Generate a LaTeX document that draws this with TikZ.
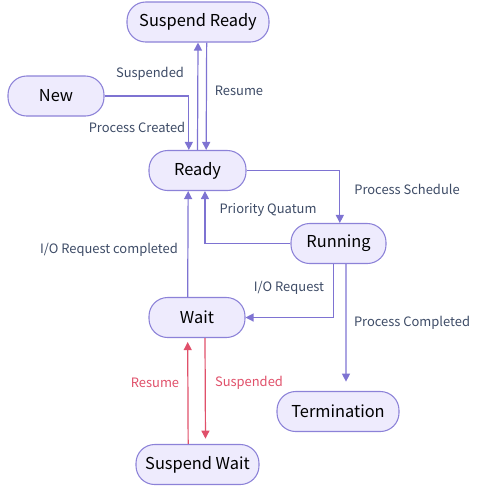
\documentclass[tikz,border=0pt]{standalone}
\usepackage{fontspec}
\setmainfont{Noto Sans CJK SC}
\usetikzlibrary{arrows.meta}
\definecolor{statefill}{HTML}{EEEBFD}
\definecolor{stateline}{HTML}{8C82D8}
\definecolor{flow}{HTML}{7E73D2}
\definecolor{labeltext}{HTML}{3D4B66}
\definecolor{suspflow}{HTML}{E0506A}

\begin{document}
\begin{tikzpicture}[x=0.75pt,y=-0.75pt,
	state/.style={draw=stateline,fill=statefill,rounded corners=14pt,minimum height=30pt,inner sep=2pt,font=\fontsize{12.3}{14}\selectfont,line width=0.8pt},
	lbl/.style={text=labeltext,font=\fontsize{9.7}{11}\selectfont,inner sep=1pt},
	redlbl/.style={lbl,text=suspflow},
	flowline/.style={draw=flow,line width=0.9pt,-{Triangle[width=6pt,length=6pt]}}]
	\useasboundingbox (0,0) rectangle (492,487);
	\node [state,minimum width=106.5pt](sready) at (198,22) {Suspend Ready};
	\node [state,minimum width=72pt](new) at (56,96) {New};
	\node [state,minimum width=72.75pt](ready) at (197.5,170.5) {Ready};
	\node [state,minimum width=71.25pt](running) at (338.5,243.5) {Running};
	\node [state,minimum width=72pt](wait) at (197,317.5) {Wait};
	\node [state,minimum width=91.5pt](term) at (338,411.5) {Termination};
	\node [state,minimum width=92.25pt](swait) at (197.5,464.5) {Suspend Wait};
	% connectors
	\draw [flowline] (ready.north) -- (sready.south);
	\draw [flowline] ([xshift=6.5pt]sready.south) -- ([xshift=6.5pt]ready.north);
	\draw [flowline] (new.east) -| ([xshift=-6.5pt]ready.north);
	\draw [flowline] (ready.east) -| ([xshift=1pt]running.north);
	\draw [flowline] (running.west) -| ([xshift=5.6pt]ready.south);
	\draw [flowline] ([xshift=-7pt]wait.north) -- ([xshift=-7pt]ready.south);
	\draw [flowline] ([xshift=-4pt]running.south) |- (wait.east);
	\draw [flowline,shorten >=7pt] ([xshift=5.6pt]running.south) -- ([xshift=6pt]term.north);
	\draw [flowline,draw=suspflow,shorten >=4pt] ([xshift=6pt]wait.south) -- ([xshift=6pt]swait.north);
	\draw [flowline,draw=suspflow,shorten >=3pt] ([xshift=-7pt]swait.north) -- ([xshift=-7pt]wait.south);
	% labels
	\node [lbl](lsusp) at (150,74) {Suspended};
	\node [lbl](lresume) at (239,91) {Resume};
	\node [lbl](lcreated) at (137,127) {Process Created};
	\node [lbl](lsched) at (407,189) {Process Schedule};
	\node [lbl](lquant) at (268,210) {Priority Quatum};
	\node [lbl](liodone) at (109,250) {I/O Request completed};
	\node [lbl](lioreq) at (289,288) {I/O Request};
	\node [lbl](ldone) at (412,323) {Process Completed};
	\node [redlbl](lwresume) at (155,383) {Resume};
	\node [redlbl](lwsusp) at (249,383) {Suspended};
\end{tikzpicture}
\end{document}
